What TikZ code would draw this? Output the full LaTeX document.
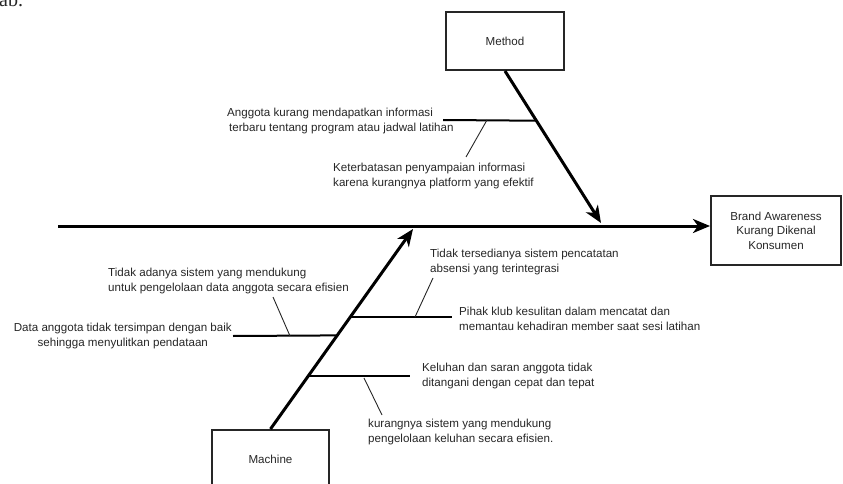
\documentclass[tikz,border=0pt]{standalone}
\usepackage{fontspec}
\setmainfont{Liberation Sans}
\newfontfamily\serifdoc{Liberation Serif}
\usetikzlibrary{arrows.meta,calc}
\begin{document}
\begin{tikzpicture}[x=1pt,y=-1pt,
  lbl/.style={font=\fontsize{11.6}{14.5}\selectfont, text=black!85, inner sep=0pt},
  catbox/.style={draw=black!85, line width=2pt, inner sep=0pt,
    font=\fontsize{11.6}{14.5}\selectfont, text=black!85, align=center},
  spine/.style={line width=3pt, line cap=butt, -{Stealth[length=17pt,width=14pt,inset=5pt]}},
  rib/.style={line width=2pt},
  twig/.style={line width=0.9pt, black!85}
]
\useasboundingbox (0,0) rectangle (843,484);

% fragment of surrounding document text
\node[font=\serifdoc\fontsize{20}{20}\selectfont, text=black!85, anchor=base west, inner sep=0pt] (frag) at (-1,7) {ab.};

% boxes
\node[catbox, minimum width=130pt, minimum height=69pt] (effect) at (776,230.5)
  {Brand Awareness\\Kurang Dikenal\\Konsumen};
\node[catbox, minimum width=118pt, minimum height=58pt] (method) at (505,41) {Method};
\node[catbox, minimum width=117pt, minimum height=58pt] (machine) at (270.5,459) {Machine};

% main spine
\coordinate (tail) at (58,226);
\draw[spine] (tail) -- (tail -| effect.west);

% category spines
\coordinate (mtip) at (601,223);
\coordinate (ktip) at (413,229);
\draw[spine] (method.south) -- (mtip);
\draw[spine] (machine.north) -- (ktip);

% ---------- Method branch ----------
\coordinate (mj1) at ($(method.south)!0.327!(mtip)$);
\coordinate (ms1) at (443,120);
\node[lbl, align=left, anchor=west] (t1) at (227,121)
  {Anggota kurang mendapatkan informasi\\\hspace{2pt}terbaru tentang program atau jadwal latihan};
\draw[rib] (ms1) -- (mj1);
\coordinate (mt1a) at (487,120);
\coordinate (mt1b) at (466,157);
\draw[twig] (mt1a) -- (mt1b);
\node[lbl, align=left, anchor=west] (t2) at (333,176)
  {Keterbatasan penyampaian informasi\\karena kurangnya platform yang efektif};

% ---------- Machine branches ----------
\coordinate (kj1) at ($(machine.north)!0.468!(ktip)$);
\coordinate (kj2) at ($(machine.north)!0.562!(ktip)$);
\coordinate (kj3) at ($(machine.north)!0.264!(ktip)$);

% Data anggota
\node[lbl, align=center, anchor=east] (t3) at (232,336)
  {Data anggota tidak tersimpan dengan baik\\sehingga menyulitkan pendataan};
\draw[rib] ([xshift=1pt]t3.east) -- (kj1);
\coordinate (kt1a) at (290,336);
\coordinate (kt1b) at (273,297);
\draw[twig] (kt1a) -- (kt1b);
\node[lbl, align=left, anchor=west] (t4) at (108,281)
  {Tidak adanya sistem yang mendukung\\untuk pengelolaan data anggota secara efisien};

% Pihak klub
\node[lbl, align=left, anchor=west] (t5) at (459,319)
  {Pihak klub kesulitan dalam mencatat dan\\memantau kehadiran member saat sesi latihan};
\draw[rib] (kj2) -- ([xshift=-7pt]t5.west |- kj2);
\coordinate (kt2a) at (415,317);
\coordinate (kt2b) at (433,278);
\draw[twig] (kt2a) -- (kt2b);
\node[lbl, align=left, anchor=west] (t6) at (430,262)
  {Tidak tersedianya sistem pencatatan\\absensi yang terintegrasi};

% Keluhan
\node[lbl, align=left, anchor=west] (t7) at (422,376)
  {Keluhan dan saran anggota tidak\\ditangani dengan cepat dan tepat};
\draw[rib] (kj3) -- ([xshift=-12pt]t7.west |- kj3);
\coordinate (kt3a) at (364,378);
\coordinate (kt3b) at (382,415);
\draw[twig] (kt3a) -- (kt3b);
\node[lbl, align=left, anchor=west] (t8) at (368,432)
  {kurangnya sistem yang mendukung\\pengelolaan keluhan secara efisien.};
\end{tikzpicture}
\end{document}
